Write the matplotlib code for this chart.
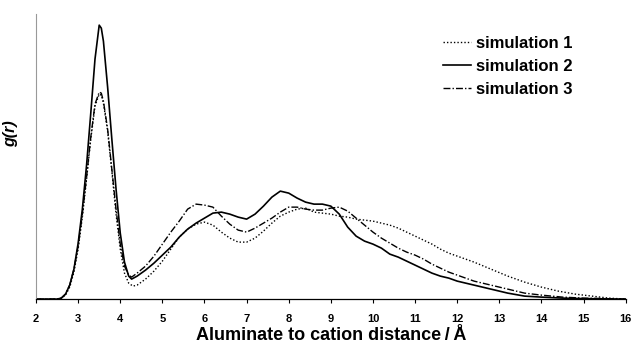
import matplotlib
matplotlib.use("Agg")
import matplotlib.pyplot as plt

plt.rcParams['font.family'] = ['Liberation Sans', 'DejaVu Sans']

# distance r (Angstrom) and g(r)
r_sim1 = [2.0, 2.5, 2.6, 2.7, 2.8, 2.9, 3.0, 3.1, 3.2, 3.3, 3.4, 3.5, 3.55, 3.6,
          3.7, 3.8, 3.9, 4.0, 4.1, 4.2, 4.3, 4.4, 4.6, 4.8, 5.0, 5.2, 5.4, 5.6,
          5.8, 6.0, 6.2, 6.4, 6.6, 6.8, 7.0, 7.2, 7.4, 7.6, 7.8, 8.0, 8.2, 8.4,
          8.6, 8.8, 9.0, 9.2, 9.4, 9.6, 9.8, 10.0, 10.2, 10.4, 10.6, 10.8, 11.0,
          11.2, 11.4, 11.6, 11.8, 12.0, 12.4, 12.8, 13.2, 13.6, 14.0, 14.4,
          14.8, 15.2, 15.6, 16.0]
g_sim1 = [0, 0, 0.01, 0.04, 0.12, 0.27, 0.5, 0.82, 1.2, 1.6, 1.93, 2.05, 2.04,
          1.96, 1.68, 1.28, 0.85, 0.5, 0.26, 0.16, 0.13, 0.14, 0.2, 0.28, 0.38,
          0.5, 0.62, 0.7, 0.75, 0.77, 0.74, 0.67, 0.61, 0.57, 0.57, 0.61, 0.68,
          0.76, 0.83, 0.87, 0.9, 0.91, 0.87, 0.86, 0.85, 0.83, 0.82, 0.8, 0.79,
          0.78, 0.76, 0.74, 0.71, 0.67, 0.63, 0.59, 0.55, 0.5, 0.46, 0.43, 0.37,
          0.3, 0.23, 0.17, 0.12, 0.08, 0.05, 0.03, 0.01, 0]

r_sim2 = [2.0, 2.5, 2.6, 2.7, 2.8, 2.9, 3.0, 3.1, 3.2, 3.3, 3.4, 3.5, 3.55, 3.6,
          3.7, 3.8, 3.9, 4.0, 4.1, 4.2, 4.27, 4.4, 4.6, 4.8, 5.0, 5.2, 5.4, 5.6,
          5.8, 6.0, 6.2, 6.4, 6.6, 6.8, 7.0, 7.2, 7.4, 7.6, 7.8, 8.0, 8.2, 8.4,
          8.6, 8.8, 9.0, 9.2, 9.4, 9.6, 9.8, 10.0, 10.2, 10.4, 10.6, 10.8, 11.0,
          11.2, 11.4, 11.6, 11.8, 12.0, 12.4, 12.8, 13.2, 13.6, 14.0, 14.5,
          15.0, 16.0]
g_sim2 = [0, 0, 0.01, 0.05, 0.14, 0.3, 0.56, 0.9, 1.34, 1.86, 2.4, 2.74, 2.71,
          2.58, 2.12, 1.6, 1.1, 0.66, 0.37, 0.23, 0.2, 0.23, 0.29, 0.36, 0.44,
          0.52, 0.62, 0.7, 0.76, 0.81, 0.86, 0.87, 0.85, 0.82, 0.8, 0.85, 0.93,
          1.02, 1.08, 1.06, 1.01, 0.97, 0.95, 0.95, 0.93, 0.85, 0.72, 0.63,
          0.58, 0.55, 0.51, 0.45, 0.42, 0.38, 0.34, 0.3, 0.26, 0.23, 0.21, 0.18,
          0.14, 0.1, 0.06, 0.03, 0.02, 0.01, 0.005, 0]

r_sim3 = [2.0, 2.5, 2.6, 2.7, 2.8, 2.9, 3.0, 3.1, 3.2, 3.3, 3.4, 3.5, 3.55, 3.6,
          3.7, 3.8, 3.9, 4.0, 4.1, 4.2, 4.27, 4.4, 4.6, 4.8, 5.0, 5.2, 5.4, 5.6,
          5.8, 6.0, 6.2, 6.4, 6.6, 6.8, 7.0, 7.2, 7.4, 7.6, 7.8, 8.0, 8.2, 8.4,
          8.6, 8.8, 9.0, 9.2, 9.4, 9.6, 9.8, 10.0, 10.2, 10.4, 10.6, 10.8, 11.0,
          11.2, 11.4, 11.6, 11.8, 12.0, 12.4, 12.8, 13.2, 13.6, 14.0, 14.5,
          15.0, 16.0]
g_sim3 = [0, 0, 0.01, 0.05, 0.14, 0.3, 0.53, 0.85, 1.22, 1.62, 1.95, 2.07, 2.06,
          1.98, 1.7, 1.3, 0.9, 0.55, 0.33, 0.24, 0.22, 0.26, 0.33, 0.43, 0.55,
          0.67, 0.78, 0.9, 0.95, 0.94, 0.92, 0.83, 0.75, 0.69, 0.67, 0.71, 0.76,
          0.81, 0.87, 0.92, 0.92, 0.9, 0.89, 0.89, 0.91, 0.92, 0.88, 0.81, 0.74,
          0.67, 0.61, 0.56, 0.51, 0.47, 0.44, 0.4, 0.35, 0.31, 0.27, 0.24, 0.18,
          0.14, 0.1, 0.06, 0.04, 0.02, 0.01, 0]

x_ticks = list(range(2, 17))
labels = ["simulation 1", "simulation 2", "simulation 3"]


def make_plot(out_file):
    fig = plt.figure(figsize=(6.32, 3.45), dpi=100)
    ax = fig.add_axes([0.057, 0.133, 0.933, 0.826])

    ax.plot(r_sim1, g_sim1, color='black', linestyle=(0, (1, 1.5)), linewidth=1.0)
    ax.plot(r_sim2, g_sim2, color='black', linestyle='-', linewidth=1.2)
    ax.plot(r_sim3, g_sim3, color='black', linestyle=(0, (5, 1.5, 1, 1.5)),
            linewidth=1.0)

    ax.set_xlim(2, 16)
    ax.set_ylim(0, 2.85)
    ax.set_xticks(x_ticks)
    ax.set_xticklabels([str(t) for t in x_ticks], fontsize=8, fontweight='bold')
    ax.set_yticks([])
    ax.tick_params(axis='x', direction='out', length=3, width=0.8, pad=8)

    ax.spines['top'].set_visible(False)
    ax.spines['right'].set_visible(False)
    ax.spines['left'].set_color('#999999')
    ax.spines['left'].set_linewidth(0.8)
    ax.spines['bottom'].set_linewidth(0.9)

    ax.set_xlabel("Aluminate to cation distance\u2009/\u2009Å", fontsize=13,
                  fontweight='bold', labelpad=2)
    ax.set_ylabel("g(r)", fontsize=11.5, fontweight='bold', style='italic')
    ax.yaxis.set_label_coords(-0.03, 0.58)

    ax.legend(labels, loc='upper right', bbox_to_anchor=(0.935, 0.975),
              frameon=False, handlelength=1.7, handletextpad=0.3,
              labelspacing=0.48, prop={'size': 12, 'weight': 'bold'})

    fig.savefig(out_file, dpi=100)


if __name__ == '__main__':
    make_plot("out.png")
